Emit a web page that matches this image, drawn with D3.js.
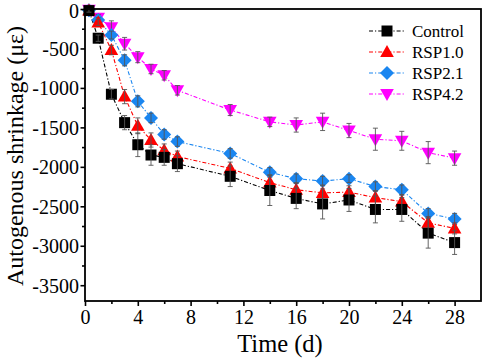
<!DOCTYPE html>
<html><head><meta charset="utf-8">
<script src="https://cdn.jsdelivr.net/npm/d3@7"></script>
<style>body{margin:0;background:#fff}svg{display:block}</style>
</head><body>
<svg id="c" width="484" height="361" style="font-family:'Liberation Serif',serif"></svg>
<script>
const days = [0.3, 1, 2, 3, 4, 5, 6, 7, 11, 14, 16, 18, 20, 22, 24, 26, 28];
const seriesNames = ["Control", "RSP1.0", "RSP2.1", "RSP4.2"];
const controlVals = [-20, -370, -1080, -1440, -1720, -1850, -1880, -1960, -2120, -2300, -2400, -2470, -2420, -2540, -2540, -2840, -2960];
const rsp10Vals = [-20, -170, -520, -1110, -1480, -1660, -1790, -1870, -2020, -2200, -2290, -2330, -2320, -2390, -2440, -2710, -2780];
const rsp21Vals = [-15, -140, -330, -650, -1170, -1380, -1590, -1680, -1830, -2070, -2150, -2180, -2150, -2250, -2290, -2590, -2660];
const rsp42Vals = [-10, -110, -230, -440, -610, -760, -840, -1030, -1280, -1430, -1470, -1430, -1540, -1650, -1670, -1820, -1890];
const controlErr = [20, 40, 60, 90, 150, 130, 100, 100, 130, 190, 130, 190, 145, 170, 150, 190, 150];
const rsp10Err = [20, 40, 60, 90, 100, 90, 80, 70, 80, 100, 90, 100, 80, 90, 80, 80, 70];
const rsp21Err = [15, 30, 50, 70, 70, 60, 60, 60, 60, 60, 60, 60, 50, 60, 60, 60, 70];
const rsp42Err = [10, 40, 80, 80, 70, 60, 60, 60, 70, 60, 90, 110, 90, 140, 120, 140, 90];
const xTicks = [0, 4, 8, 12, 16, 20, 24, 28];
const yTicks = [0, -500, -1000, -1500, -2000, -2500, -3000, -3500];
const xTitle = "Time (d)";
const yTitle = "Autogenous shrinkage (με)";

const colors = ["#000000", "#ff0000", "#1a86f0", "#ff00ff"];
const shapes = ["square", "up", "diamond", "down"];
const vals = [controlVals, rsp10Vals, rsp21Vals, rsp42Vals];
const errs = [controlErr, rsp10Err, rsp21Err, rsp42Err];

const FONT = "'Liberation Serif', serif";
const L = 85, R = 481, T = 9, B = 301;
const x = d3.scaleLinear().domain([0, 30]).range([L, R]);
const y = d3.scaleLinear().domain([-3700, 0]).range([B, T]);
const svg = d3.select("#c");

function shapePath(s) {
  if (s === "square") return "M-5.5,-5.5H5.5V5.5H-5.5Z";
  if (s === "up") return "M0,-7L6.8,5L-6.8,5Z";
  if (s === "down") return "M0,7L6.8,-5L-6.8,-5Z";
  return "M0,-7L7,0L0,7L-7,0Z";
}

svg.append("defs").append("clipPath").attr("id", "pc")
  .append("rect").attr("x", L).attr("y", T).attr("width", R - L).attr("height", B - T);

const plot = svg.append("g").attr("clip-path", "url(#pc)");
const line = d3.line().x(d => x(d[0])).y(d => y(d[1]));
const order = [3, 2, 1, 0];
order.forEach(i => {
  const pts = days.map((d, k) => [d, vals[i][k]]);
  plot.append("path").attr("d", line(pts)).attr("fill", "none")
    .attr("stroke", colors[i]).attr("stroke-width", 1.1)
    .attr("stroke-dasharray", "4,2,1.2,2");
});
order.forEach(i => {
  const g = svg.append("g");
  days.forEach((d, k) => {
    g.append("path").attr("d", shapePath(shapes[i]))
      .attr("transform", `translate(${x(d)},${y(vals[i][k])})`)
      .attr("fill", colors[i]);
  });
  days.forEach((d, k) => {
    const cx = x(d), y1 = y(vals[i][k] + errs[i][k]), y2 = y(vals[i][k] - errs[i][k]);
    g.append("line").attr("x1", cx).attr("x2", cx).attr("y1", y1).attr("y2", y2)
      .attr("stroke", "#555").attr("stroke-width", 0.9);
    [y1, y2].forEach(yy => g.append("line").attr("x1", cx - 2.5).attr("x2", cx + 2.5)
      .attr("y1", yy).attr("y2", yy).attr("stroke", "#555").attr("stroke-width", 0.9));
  });
});

const xAxis = d3.axisBottom(x).tickValues(d3.range(0, 30, 2)).tickSize(5)
  .tickFormat(d => xTicks.includes(d) ? String(d) : "");
const gx = svg.append("g").attr("transform", `translate(0,${B})`).call(xAxis);
gx.attr("font-family", null).attr("font-size", null);
gx.select(".domain").remove();
gx.selectAll(".tick line").attr("stroke", "#000").attr("stroke-width", 1.6)
  .attr("y2", d => xTicks.includes(d) ? 5 : 3);
gx.selectAll(".tick text").style("font-family", FONT).style("font-size", "20px")
  .attr("fill", "#000").attr("y", 9).attr("dy", "0.71em");

const yAxis = d3.axisLeft(y).tickValues(d3.range(-3500, 1, 250)).tickSize(4)
  .tickFormat(d => yTicks.includes(d) ? String(d) : "");
const gy = svg.append("g").attr("transform", `translate(${L},0)`).call(yAxis);
gy.attr("font-family", null).attr("font-size", null);
gy.select(".domain").remove();
gy.selectAll(".tick line").attr("stroke", "#000").attr("stroke-width", 1.6)
  .attr("x2", d => yTicks.includes(d) ? -4.5 : -3);
gy.selectAll(".tick text").style("font-family", FONT).style("font-size", "20px")
  .attr("fill", "#000").attr("x", -6).attr("dy", d => d === 0 ? "0.42em" : "0.34em");

svg.append("rect").attr("x", L).attr("y", T).attr("width", R - L).attr("height", B - T)
  .attr("fill", "none").attr("stroke", "#000").attr("stroke-width", 1.8);

svg.append("text").attr("x", 280).attr("y", 352).attr("text-anchor", "middle")
  .style("font-family", FONT).style("font-size", "24.5px").text(xTitle);
svg.append("text").attr("transform", `translate(23,${(T + B) / 2 + 1}) rotate(-90)`)
  .attr("text-anchor", "middle").style("font-family", FONT).style("font-size", "24px").text(yTitle);

const lg = svg.append("g");
seriesNames.forEach((n, i) => {
  const yy = 31 + i * 21;
  lg.append("line").attr("x1", 369).attr("x2", 405).attr("y1", yy).attr("y2", yy)
    .attr("stroke", colors[i]).attr("stroke-width", 1.1).attr("stroke-dasharray", "4,2,1.2,2");
  lg.append("path").attr("d", shapePath(shapes[i])).attr("transform", `translate(387,${yy})`)
    .attr("fill", colors[i]);
  lg.append("text").attr("x", 412).attr("y", yy).attr("dy", "0.35em")
    .style("font-family", FONT).style("font-size", "17px").text(n);
});
</script>
</body></html>
